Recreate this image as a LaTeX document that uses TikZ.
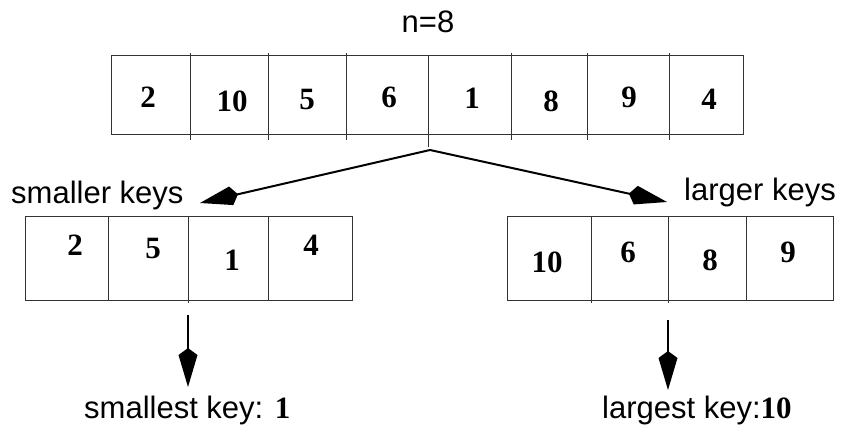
\documentclass[tikz,border=0pt]{standalone}
\usepackage{fontspec}
\setmainfont{Liberation Serif}
\setsansfont{Liberation Sans}
\usetikzlibrary{arrows.meta}

\begin{document}
\begin{tikzpicture}[x=1pt,y=-1pt,
  frame/.style={draw=black!80, line width=1pt},
  key/.style={font=\fontsize{31}{36}\selectfont\bfseries, inner sep=0pt, anchor=base},
  caption/.style={font=\fontsize{31}{36}\selectfont\sffamily, inner sep=0pt, anchor=base west},
  link/.style={draw=black, line width=2pt, -{Kite[length=39pt,width=19pt,inset=7pt]}}
]
\useasboundingbox (0,0) rectangle (846,425);

% input array
\node[caption, anchor=base] (title) at (428,33) {n=8};
\draw[frame] (111,56) rectangle (743,135);
\foreach \x in {190,268,346,511,587,669} \draw[frame] (\x,53) -- (\x,140);
\draw[frame] (428,56) -- (428,147);
\node[key] (a1) at (148,108) {2};
\node[key] (a2) at (232,112) {10};
\node[key] (a3) at (307,110) {5};
\node[key] (a4) at (389,108) {6};
\node[key] (a5) at (472,109) {1};
\node[key] (a6) at (551,112) {8};
\node[key] (a7) at (629,108) {9};
\node[key] (a8) at (709,110) {4};

% partition into smaller and larger keys
\coordinate (split) at (430,150);
\coordinate (ltip) at (200,203);
\coordinate (rtip) at (667,202);
\node[caption] (small) at (11,203) {smaller keys};
\node[caption] (large) at (684,200) {larger keys};
\draw[link] (split) -- (ltip);
\draw[link] (split) -- (rtip);

% smaller keys array
\draw[frame] (25,216) rectangle (352,300);
\draw[frame] (108,216) -- (108,300);
\draw[frame] (188,216) -- (188,303);
\draw[frame] (268,216) -- (268,300);
\node[key] (b1) at (75,255) {2};
\node[key] (b2) at (153,258) {5};
\node[key] (b3) at (232,270) {1};
\node[key] (b4) at (311,255) {4};

% larger keys array
\draw[frame] (507,216) rectangle (833,300);
\draw[frame] (591,216) -- (591,303);
\draw[frame] (668,216) -- (668,303);
\draw[frame] (746,216) -- (746,300);
\node[key] (c1) at (547,272) {10};
\node[key] (c2) at (628,262) {6};
\node[key] (c3) at (710,270) {8};
\node[key] (c4) at (788,262) {9};

% minimum and maximum
\coordinate (minfrom) at (188,315);
\coordinate (mintip) at (188,387);
\coordinate (maxfrom) at (668,320);
\coordinate (maxtip) at (668,390);
\draw[link] (minfrom) -- (mintip);
\draw[link] (maxfrom) -- (maxtip);
\node[caption] (minlabel) at (84,418) {smallest key: \rmfamily\bfseries 1};
\node[caption] (maxlabel) at (602,418) {largest key:\rmfamily\bfseries 10};
\end{tikzpicture}
\end{document}
